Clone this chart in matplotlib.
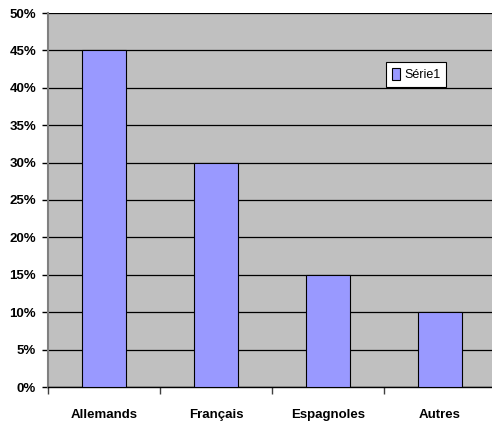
import matplotlib
matplotlib.use("Agg")
import matplotlib.pyplot as plt
from matplotlib.ticker import FixedLocator, PercentFormatter

categories = ["Allemands", "Français", "Espagnoles", "Autres"]
values = [45, 30, 15, 10]
series_name = "Série1"
y_ticks = list(range(0, 51, 5))

plt.rcParams["font.family"] = ["Liberation Sans", "DejaVu Sans"]

fig = plt.figure(figsize=(4.92, 4.21), dpi=100)
W, H = 492, 421
ax = fig.add_axes([48 / W, (H - 387) / H, 448 / W, (387 - 13) / H])
ax.set_facecolor("#C0C0C0")

x = list(range(len(categories)))
ax.bar(x, values, width=0.4, color="#9999FF", edgecolor="black", linewidth=0.8,
       label=series_name, zorder=3)

ax.set_xlim(-0.5, len(categories) - 0.5)
ax.set_ylim(0, 50)
ax.set_yticks(y_ticks)
ax.yaxis.set_major_formatter(PercentFormatter(decimals=0))
ax.yaxis.grid(True, color="black", linewidth=0.9, zorder=1)
ax.set_axisbelow(True)

ax.set_xticks(x)
ax.set_xticklabels(categories, fontweight="bold", fontsize=9.5)
ax.tick_params(axis="x", which="major", length=0, pad=16)
ax.xaxis.set_minor_locator(FixedLocator([i + 0.5 for i in range(-1, len(categories))]))
ax.tick_params(axis="x", which="minor", length=5, width=1, color="#404040", direction="out")
ax.tick_params(axis="y", length=4.5, width=1, color="black", labelsize=9.5, pad=4)
for lab in ax.get_yticklabels():
    lab.set_fontweight("bold")

for side in ("top", "right"):
    ax.spines[side].set_visible(False)
ax.spines["left"].set_color("#808080")
ax.spines["left"].set_linewidth(1.5)
ax.spines["bottom"].set_color("black")
ax.spines["bottom"].set_linewidth(1)

leg = ax.legend(loc="upper left", bbox_to_anchor=((386 - 48) / 448, (387 - 62) / 374),
                frameon=True, fancybox=False, edgecolor="black", facecolor="white",
                fontsize=9, handlelength=0.7, handleheight=1.1, handletextpad=0.3,
                borderpad=0.45, borderaxespad=0, framealpha=1)
leg.get_frame().set_linewidth(0.8)

fig.savefig("out.png", dpi=100)
